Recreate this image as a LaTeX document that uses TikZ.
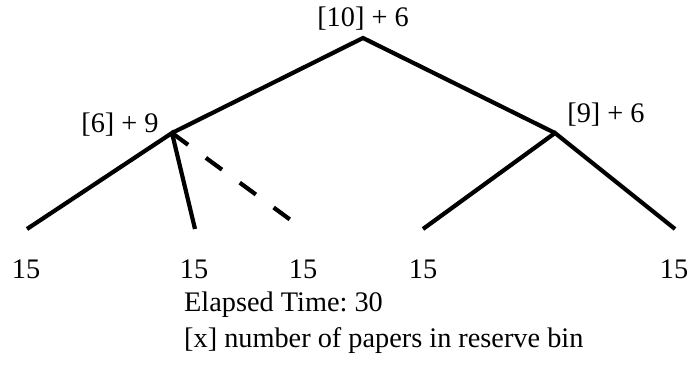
\documentclass[tikz,border=0pt]{standalone}
\usepackage{fontspec}
\setmainfont{Liberation Serif}
\begin{document}
\frenchspacing
\begin{tikzpicture}[x=1pt,y=-1pt,
  edge/.style={line width=4.2pt,black},
  dashedge/.style={line width=4.2pt,black,dash pattern=on 20pt off 22pt},
  lbl/.style={inner sep=0pt,anchor=base,font=\fontsize{28.3}{34}\selectfont},
  note/.style={inner sep=0pt,anchor=base west,font=\fontsize{28.3}{34}\selectfont}]
\useasboundingbox (0,0) rectangle (690,379);
% apexes
\coordinate (root) at (363,38);
\coordinate (left) at (172,133);
\coordinate (right) at (555,133);
% leaf ends
\coordinate (l1) at (27,229);
\coordinate (l2) at (195,229);
\coordinate (l3) at (292,221);
\coordinate (r1) at (423,229);
\coordinate (r2) at (675,229);
% labels
\node[lbl] (troot) at (363,27) {[10] + 6};
\node[lbl] (tleft) at (120,133) {[6] + 9};
\node[lbl] (tright) at (606,123) {[9] + 6};
\node[lbl] (n1) at (26,278) {15};
\node[lbl] (n2) at (194,278) {15};
\node[lbl] (n3) at (303,278) {15};
\node[lbl] (n4) at (423,278) {15};
\node[lbl] (n5) at (674,278) {15};
\node[note] (elapsed) at (184,311) {Elapsed Time: 30};
\node[note] (legend) at (184,347) {[x] number of papers in reserve bin};
% edges
\draw[edge] (left) -- (root) -- (right);
\draw[edge] (l1) -- (left) -- (l2);
\draw[dashedge] (left) -- (l3);
\draw[edge] (r1) -- (right) -- (r2);
\end{tikzpicture}
\end{document}
